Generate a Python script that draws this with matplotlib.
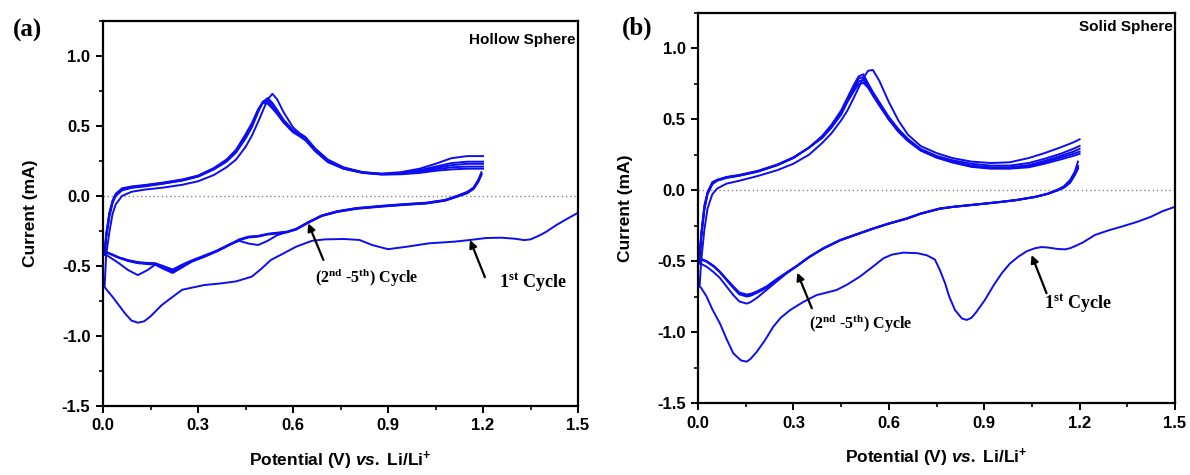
import matplotlib
matplotlib.use('Agg')
import matplotlib.pyplot as plt
from matplotlib.ticker import MultipleLocator, FormatStrFormatter

plt.rcParams['font.family'] = ['Liberation Sans', 'DejaVu Sans']
plt.rcParams['font.weight'] = 'bold'
plt.rcParams['axes.unicode_minus'] = False
plt.rcParams['mathtext.fontset'] = 'custom'
plt.rcParams['mathtext.rm'] = 'Liberation Serif:bold'
plt.rcParams['mathtext.sf'] = 'Liberation Sans:bold'
plt.rcParams['mathtext.it'] = 'Liberation Sans:italic:bold'

# ---------------- (a) Hollow sphere ----------------
# 1st cycle, cathodic scan from OCV (1.5 V) down to 0.005 V
a_c1_cath_v = [1.50, 1.46, 1.43, 1.40, 1.38, 1.35, 1.33, 1.30, 1.26, 1.21, 1.16, 1.11, 1.03, 0.96,
               0.90, 0.85, 0.81, 0.76, 0.70, 0.66, 0.61, 0.57, 0.53, 0.50, 0.47, 0.42, 0.37, 0.32,
               0.28, 0.25, 0.22, 0.185, 0.15, 0.13, 0.11, 0.09, 0.07, 0.05, 0.03, 0.01, 0.005]
a_c1_cath_i = [-0.12, -0.17, -0.21, -0.255, -0.28, -0.31, -0.315, -0.305, -0.298, -0.30, -0.314,
               -0.326, -0.338, -0.362, -0.38, -0.35, -0.314, -0.307, -0.31, -0.32, -0.362, -0.41,
               -0.457, -0.52, -0.576, -0.61, -0.625, -0.636, -0.655, -0.67, -0.72, -0.78, -0.86,
               -0.895, -0.905, -0.89, -0.84, -0.78, -0.72, -0.665, -0.65]

# cathodic scans of cycles 2-5 (1.2 V -> 0.005 V)
a_cath_v = [1.195, 1.185, 1.17, 1.15, 1.12, 1.08, 1.02, 0.95, 0.88, 0.80, 0.74, 0.69, 0.65, 0.61,
            0.58, 0.55, 0.52, 0.49, 0.46, 0.43, 0.40, 0.36, 0.32, 0.28, 0.25, 0.22, 0.19, 0.165,
            0.14, 0.11, 0.08, 0.05, 0.03, 0.01, 0.005]
a_cath_i2 = [0.17, 0.115, 0.06, 0.03, 0.003, -0.028, -0.048, -0.058, -0.07, -0.086, -0.108, -0.14,
             -0.185, -0.235, -0.258, -0.28, -0.32, -0.35, -0.34, -0.32, -0.345, -0.39, -0.43,
             -0.465, -0.50, -0.53, -0.515, -0.49, -0.53, -0.565, -0.53, -0.48, -0.45, -0.42, -0.42]
a_cath_i3 = [0.16, 0.11, 0.055, 0.025, 0.0, -0.03, -0.05, -0.06, -0.072, -0.088, -0.11, -0.14,
             -0.185, -0.235, -0.255, -0.262, -0.27, -0.285, -0.29, -0.31, -0.345, -0.39, -0.425,
             -0.46, -0.49, -0.525, -0.5, -0.48, -0.478, -0.472, -0.458, -0.438, -0.418, -0.40, -0.42]
a_cath_i4 = [0.155, 0.105, 0.052, 0.022, -0.002, -0.032, -0.052, -0.062, -0.074, -0.09, -0.112,
             -0.142, -0.187, -0.237, -0.257, -0.265, -0.272, -0.287, -0.293, -0.313, -0.348,
             -0.393, -0.43, -0.465, -0.5, -0.54, -0.51, -0.485, -0.482, -0.476, -0.462, -0.44,
             -0.42, -0.40, -0.42]
a_cath_i5 = [0.15, 0.10, 0.05, 0.02, -0.004, -0.034, -0.054, -0.064, -0.076, -0.092, -0.114,
             -0.144, -0.19, -0.24, -0.26, -0.268, -0.275, -0.29, -0.296, -0.316, -0.35, -0.396,
             -0.435, -0.47, -0.51, -0.55, -0.52, -0.49, -0.486, -0.48, -0.465, -0.442, -0.422,
             -0.402, -0.42]

# anodic scans (0.005 V -> 1.2 V), cycles 1-5
a_an_v = [0.005, 0.01, 0.02, 0.03, 0.04, 0.06, 0.09, 0.13, 0.19, 0.25, 0.30, 0.35, 0.39, 0.42,
          0.45, 0.47, 0.49, 0.505, 0.52, 0.535, 0.55, 0.57, 0.60, 0.62, 0.64, 0.67, 0.71, 0.76,
          0.82, 0.88, 0.94, 1.00, 1.05, 1.10, 1.15, 1.20]
a_an_i1 = [-0.65, -0.42, -0.26, -0.13, -0.06, 0.0, 0.03, 0.045, 0.06, 0.08, 0.105, 0.15, 0.205,
           0.26, 0.35, 0.43, 0.53, 0.61, 0.69, 0.73, 0.69, 0.60, 0.49, 0.45, 0.42, 0.34, 0.26,
           0.205, 0.17, 0.16, 0.17, 0.195, 0.23, 0.27, 0.285, 0.285]
a_an_i2 = [-0.42, -0.30, -0.15, -0.05, 0.0, 0.04, 0.058, 0.068, 0.088, 0.11, 0.138, 0.19, 0.245,
           0.31, 0.41, 0.49, 0.60, 0.67, 0.70, 0.665, 0.615, 0.545, 0.47, 0.44, 0.41, 0.33, 0.25,
           0.2, 0.17, 0.158, 0.165, 0.185, 0.21, 0.235, 0.245, 0.245]
a_an_i3 = [-0.42, -0.29, -0.14, -0.045, 0.005, 0.045, 0.062, 0.072, 0.09, 0.112, 0.14, 0.192,
           0.25, 0.315, 0.42, 0.50, 0.61, 0.675, 0.69, 0.655, 0.605, 0.54, 0.465, 0.435, 0.405,
           0.328, 0.248, 0.198, 0.168, 0.156, 0.162, 0.18, 0.2, 0.22, 0.23, 0.23]
a_an_i4 = [-0.42, -0.28, -0.13, -0.04, 0.01, 0.05, 0.065, 0.075, 0.093, 0.115, 0.143, 0.195,
           0.255, 0.32, 0.43, 0.51, 0.615, 0.67, 0.675, 0.64, 0.595, 0.535, 0.46, 0.432, 0.4,
           0.325, 0.245, 0.196, 0.166, 0.155, 0.158, 0.172, 0.19, 0.205, 0.21, 0.21]
a_an_i5 = [-0.42, -0.27, -0.12, -0.035, 0.015, 0.055, 0.068, 0.078, 0.096, 0.118, 0.146, 0.2,
           0.26, 0.33, 0.44, 0.52, 0.62, 0.665, 0.66, 0.625, 0.585, 0.525, 0.455, 0.428, 0.396,
           0.32, 0.242, 0.194, 0.165, 0.153, 0.155, 0.165, 0.18, 0.19, 0.195, 0.195]

# ---------------- (b) Solid sphere ----------------
b_c1_cath_v = [1.50, 1.46, 1.425, 1.38, 1.332, 1.29, 1.248, 1.21, 1.186, 1.17, 1.154, 1.13, 1.10,
               1.08, 1.06, 1.035, 1.007, 0.98, 0.955, 0.93, 0.902, 0.875, 0.86, 0.845, 0.83, 0.808,
               0.79, 0.777, 0.76, 0.745, 0.72, 0.69, 0.646, 0.61, 0.583, 0.55, 0.509, 0.47, 0.436,
               0.40, 0.373, 0.33, 0.29, 0.26, 0.237, 0.21, 0.185, 0.165, 0.153, 0.135, 0.111,
               0.09, 0.069, 0.045, 0.027, 0.01, 0.005]
b_c1_cath_i = [-0.118, -0.15, -0.188, -0.225, -0.258, -0.285, -0.317, -0.37, -0.395, -0.41,
               -0.418, -0.415, -0.405, -0.402, -0.41, -0.43, -0.47, -0.52, -0.587, -0.67, -0.775,
               -0.86, -0.9, -0.915, -0.905, -0.845, -0.75, -0.657, -0.56, -0.49, -0.46, -0.445,
               -0.441, -0.455, -0.481, -0.54, -0.61, -0.665, -0.704, -0.725, -0.74, -0.79, -0.845,
               -0.9, -0.962, -1.06, -1.139, -1.19, -1.209, -1.2, -1.15, -1.05, -0.94, -0.84,
               -0.75, -0.69, -0.68]

b_cath_v = [1.195, 1.185, 1.17, 1.15, 1.13, 1.10, 1.06, 1.00, 0.955, 0.90, 0.80, 0.76, 0.70,
            0.656, 0.60, 0.551, 0.50, 0.447, 0.394, 0.35, 0.31, 0.28, 0.247, 0.215, 0.185, 0.165,
            0.153, 0.13, 0.111, 0.09, 0.069, 0.05, 0.027, 0.01, 0.005]
b_cath_i2 = [0.2, 0.13, 0.07, 0.025, 0.002, -0.025, -0.048, -0.072, -0.084, -0.097, -0.12,
             -0.133, -0.168, -0.203, -0.238, -0.273, -0.313, -0.355, -0.413, -0.472, -0.538,
             -0.585, -0.645, -0.705, -0.76, -0.79, -0.80, -0.785, -0.74, -0.68, -0.62, -0.58,
             -0.54, -0.52, -0.52]
b_cath_i3 = [0.17, 0.115, 0.06, 0.02, 0.0, -0.026, -0.048, -0.07, -0.082, -0.095, -0.118, -0.13,
             -0.165, -0.2, -0.235, -0.27, -0.31, -0.352, -0.41, -0.47, -0.535, -0.58, -0.634,
             -0.69, -0.725, -0.745, -0.75, -0.735, -0.69, -0.635, -0.58, -0.54, -0.505, -0.49, -0.49]
b_cath_i4 = [0.16, 0.11, 0.055, 0.018, -0.002, -0.027, -0.049, -0.071, -0.083, -0.096, -0.119,
             -0.131, -0.166, -0.201, -0.236, -0.271, -0.311, -0.353, -0.411, -0.471, -0.536,
             -0.58, -0.63, -0.685, -0.72, -0.738, -0.742, -0.728, -0.684, -0.632, -0.578,
             -0.538, -0.503, -0.488, -0.49]
b_cath_i5 = [0.15, 0.105, 0.05, 0.015, -0.004, -0.028, -0.05, -0.072, -0.084, -0.097, -0.12,
             -0.132, -0.167, -0.202, -0.237, -0.272, -0.312, -0.354, -0.412, -0.472, -0.537,
             -0.58, -0.628, -0.68, -0.714, -0.732, -0.736, -0.722, -0.678, -0.628, -0.575,
             -0.535, -0.5, -0.485, -0.48]

b_an_v = [0.005, 0.01, 0.02, 0.03, 0.045, 0.06, 0.09, 0.13, 0.19, 0.25, 0.30, 0.35, 0.39, 0.42,
          0.45, 0.47, 0.49, 0.505, 0.52, 0.535, 0.55, 0.57, 0.60, 0.63, 0.66, 0.70, 0.75, 0.80,
          0.86, 0.92, 0.98, 1.04, 1.09, 1.14, 1.18, 1.20]
b_an_i1 = [-0.68, -0.50, -0.28, -0.13, -0.03, 0.01, 0.045, 0.065, 0.10, 0.14, 0.185, 0.25, 0.33,
           0.40, 0.49, 0.56, 0.65, 0.72, 0.79, 0.84, 0.845, 0.77, 0.62, 0.49, 0.39, 0.31, 0.26,
           0.225, 0.20, 0.19, 0.195, 0.225, 0.26, 0.30, 0.335, 0.357]
b_an_i2 = [-0.50, -0.34, -0.14, -0.03, 0.04, 0.065, 0.085, 0.10, 0.13, 0.175, 0.225, 0.30, 0.38,
           0.46, 0.56, 0.65, 0.74, 0.80, 0.815, 0.75, 0.69, 0.62, 0.515, 0.43, 0.36, 0.29, 0.24,
           0.21, 0.185, 0.172, 0.172, 0.19, 0.22, 0.255, 0.29, 0.31]
b_an_i3 = [-0.49, -0.33, -0.13, -0.025, 0.045, 0.068, 0.088, 0.102, 0.132, 0.176, 0.226, 0.30,
           0.375, 0.45, 0.55, 0.64, 0.725, 0.785, 0.795, 0.74, 0.68, 0.61, 0.505, 0.42, 0.352,
           0.283, 0.232, 0.2, 0.172, 0.16, 0.16, 0.175, 0.205, 0.24, 0.27, 0.29]
b_an_i4 = [-0.49, -0.32, -0.12, -0.02, 0.05, 0.07, 0.09, 0.104, 0.134, 0.178, 0.228, 0.30, 0.37,
           0.445, 0.54, 0.63, 0.71, 0.765, 0.775, 0.73, 0.67, 0.60, 0.50, 0.415, 0.348, 0.28,
           0.23, 0.196, 0.166, 0.155, 0.155, 0.168, 0.195, 0.228, 0.255, 0.27]
b_an_i5 = [-0.48, -0.31, -0.11, -0.015, 0.055, 0.072, 0.092, 0.106, 0.136, 0.18, 0.23, 0.30,
           0.365, 0.44, 0.53, 0.62, 0.695, 0.745, 0.755, 0.72, 0.665, 0.595, 0.495, 0.41, 0.345,
           0.278, 0.228, 0.194, 0.163, 0.15, 0.15, 0.16, 0.185, 0.215, 0.24, 0.255]

LINE = '#0d0df2'


def draw_cycles(ax, c1v, c1i, cv, ci_list, av, ai_list):
    # cycle 1: cathodic from OCV, then anodic
    ax.plot(c1v + av, c1i + ai_list[0], color=LINE, lw=1.4, solid_joinstyle='round')
    # cycles 2-5
    for ci, ai in zip(ci_list, ai_list[1:]):
        ax.plot(cv + av, ci + ai, color=LINE, lw=1.4, solid_joinstyle='round')
    ax.axhline(0, color='#888888', lw=1.0, ls=(0, (1, 2)), zorder=0)


def style_axes(ax):
    ax.set_xlim(0, 1.5)
    ax.set_ylim(-1.5, 1.25)
    ax.set_xticks([0.0, 0.3, 0.6, 0.9, 1.2, 1.5])
    ax.set_yticks([-1.5, -1.0, -0.5, 0.0, 0.5, 1.0])
    ax.xaxis.set_minor_locator(MultipleLocator(0.15))
    ax.yaxis.set_minor_locator(MultipleLocator(0.25))
    ax.xaxis.set_major_formatter(FormatStrFormatter('%.1f'))
    ax.yaxis.set_major_formatter(FormatStrFormatter('%.1f'))
    ax.tick_params(which='major', direction='out', length=5, width=1.4, labelsize=12,
                   top=False, right=False, pad=4)
    ax.tick_params(which='minor', direction='out', length=3, width=1.2, top=False, right=False)
    for sp in ax.spines.values():
        sp.set_linewidth(1.6)
    for lab in ax.get_xticklabels() + ax.get_yticklabels():
        lab.set_fontweight('bold')
    ax.set_ylabel('Current (mA)', fontsize=12.5, fontweight='bold', labelpad=17)
    ax.set_xlabel(r'Potential (V) $\mathit{vs.}$ Li/Li$^{\mathsf{+}}$', fontsize=12.5,
                  fontweight='bold', labelpad=12)


serif = ['Liberation Serif', 'DejaVu Serif']
arrow = dict(arrowstyle='-|>', color='black', lw=1.6, mutation_scale=11, shrinkA=0, shrinkB=0)

fig = plt.figure(figsize=(11.9, 4.75), dpi=100)
ax1 = fig.add_axes([103 / 1190, 1 - 406 / 475, 475 / 1190, 385 / 475])
ax2 = fig.add_axes([698 / 1190, 1 - 403 / 475, 477 / 1190, 390.5 / 475])

draw_cycles(ax1, a_c1_cath_v, a_c1_cath_i, a_cath_v,
            [a_cath_i2, a_cath_i3, a_cath_i4, a_cath_i5], a_an_v,
            [a_an_i1, a_an_i2, a_an_i3, a_an_i4, a_an_i5])
draw_cycles(ax2, b_c1_cath_v, b_c1_cath_i, b_cath_v,
            [b_cath_i2, b_cath_i3, b_cath_i4, b_cath_i5], b_an_v,
            [b_an_i1, b_an_i2, b_an_i3, b_an_i4, b_an_i5])
style_axes(ax1)
style_axes(ax2)

# panel (a) annotations
ax1.text(0.995, 0.97, 'Hollow Sphere', transform=ax1.transAxes, ha='right', va='top',
         fontsize=11, fontweight='bold')
ax1.annotate('', xy=(0.648, -0.195), xytext=(0.696, -0.457), arrowprops=arrow)
ax1.text(0.834, -0.58, r'(2$^{\mathrm{nd}}$ -5$^{\mathrm{th}}$) Cycle', ha='center', va='center',
         fontsize=11.5, fontweight='bold', family=serif)
ax1.annotate('', xy=(1.159, -0.314), xytext=(1.206, -0.58), arrowprops=arrow)
ax1.text(1.358, -0.62, r'1$^{\mathrm{st}}$ Cycle', ha='center', va='center',
         fontsize=13, fontweight='bold', family=serif)

# panel (b) annotations
ax2.text(0.995, 0.98, 'Solid Sphere', transform=ax2.transAxes, ha='right', va='top',
         fontsize=11, fontweight='bold')
ax2.annotate('', xy=(0.312, -0.582), xytext=(0.358, -0.833), arrowprops=arrow)
ax2.text(0.51, -0.939, r'(2$^{\mathrm{nd}}$ -5$^{\mathrm{th}}$) Cycle', ha='center', va='center',
         fontsize=11.5, fontweight='bold', family=serif)
ax2.annotate('', xy=(1.049, -0.458), xytext=(1.096, -0.727), arrowprops=arrow)
ax2.text(1.195, -0.798, r'1$^{\mathrm{st}}$ Cycle', ha='center', va='center',
         fontsize=13, fontweight='bold', family=serif)

fig.text(27 / 1190, 1 - 30 / 475, '(a)', ha='center', va='center', fontsize=18,
         fontweight='bold', family=serif)
fig.text(637 / 1190, 1 - 28 / 475, '(b)', ha='center', va='center', fontsize=18,
         fontweight='bold', family=serif)

fig.savefig('out.png', dpi=100)
